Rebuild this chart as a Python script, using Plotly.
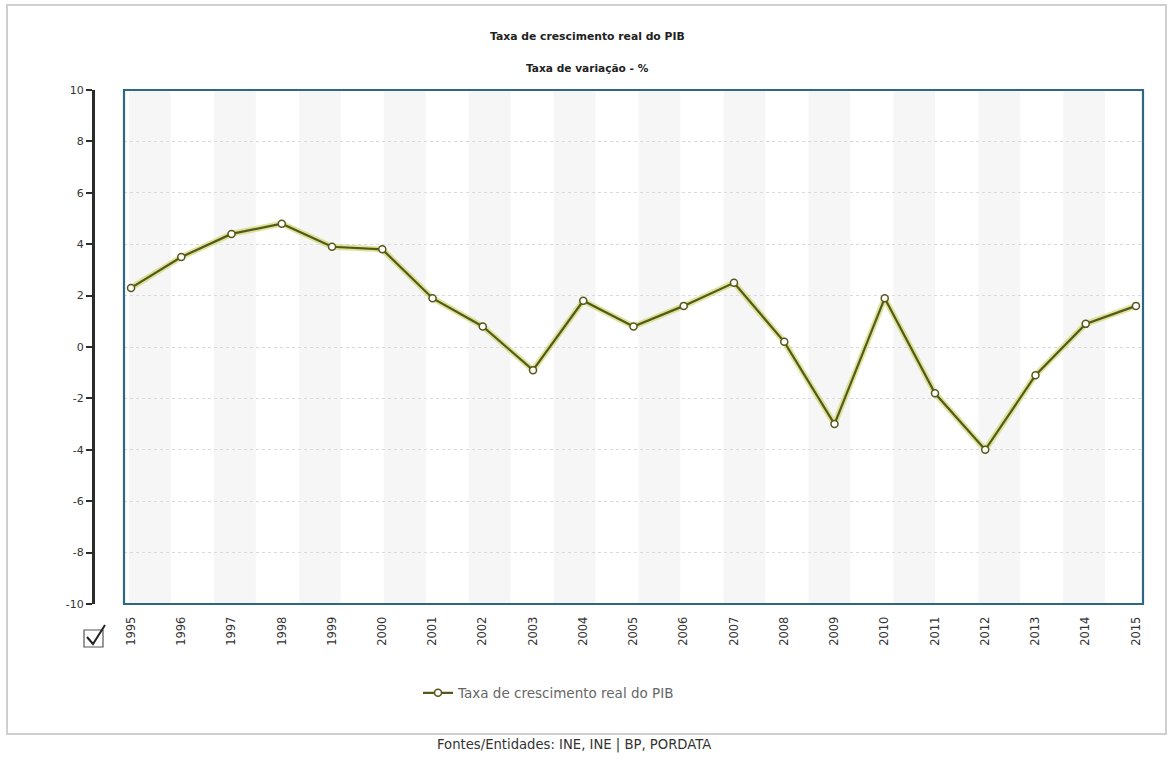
import plotly.graph_objects as go

# Real GDP growth rate, Portugal (annual % change)
years = [str(y) for y in range(1995, 2016)]
growth = [2.3, 3.5, 4.4, 4.8, 3.9, 3.8, 1.9, 0.8, -0.9, 1.8, 0.8,
          1.6, 2.5, 0.2, -3.0, 1.9, -1.8, -4.0, -1.1, 0.9, 1.6]
y_ticks = list(range(-10, 11, 2))
y_tick_text = [str(v) for v in y_ticks]

title = "Taxa de crescimento real do PIB"
subtitle = "Taxa de variação - %"
series_name = "Taxa de crescimento real do PIB"
source_note = "Fontes/Entidades: INE, INE | BP, PORDATA"

W, H = 1170, 760
ML, MR, MT, MB = 60, 27, 90, 156
PW, PH = W - ML - MR, H - MT - MB


def px(x):
    return (x - ML) / PW


def py(y):
    return (H - MB - y) / PH


FONT = "DejaVu Sans, Verdana, sans-serif"
OLIVE = "#57571c"

fig = go.Figure()

# soft yellow-green halo under the line
fig.add_trace(go.Scatter(
    x=years, y=growth, mode="lines",
    line=dict(color="rgba(205,218,110,0.7)", width=6),
    hoverinfo="skip", showlegend=False,
))
fig.add_trace(go.Scatter(
    x=years, y=growth, mode="lines+markers", name=series_name,
    line=dict(color=OLIVE, width=2.2),
    marker=dict(symbol="circle", size=7, color="white",
                line=dict(color=OLIVE, width=1.5)),
))

shapes = []
# alternating light stripes in the plotting area
n_stripes = 12
for i in range(n_stripes):
    shapes.append(dict(
        type="rect", xref="x domain", yref="y domain",
        x0=i / n_stripes + 0.005, x1=i / n_stripes + 0.046, y0=0, y1=1,
        fillcolor="#f6f6f6", line=dict(width=0), layer="below",
    ))
# plot frame
shapes.append(dict(
    type="rect", xref="x domain", yref="y domain", x0=0, x1=1, y0=0, y1=1,
    line=dict(color="#2e6784", width=2.2), fillcolor="rgba(0,0,0,0)", layer="above",
))
# outer panel border
shapes.append(dict(
    type="rect", xref="paper", yref="paper",
    x0=px(7), x1=px(1166), y0=py(734), y1=py(5),
    line=dict(color="#cfcfcf", width=2), fillcolor="rgba(0,0,0,0)",
))
# checkbox
shapes.append(dict(
    type="rect", xref="paper", yref="paper",
    x0=px(84), x1=px(103), y0=py(647), y1=py(630),
    line=dict(color="#555", width=1.2), fillcolor="white",
))
shapes.append(dict(
    type="path", xref="paper", yref="paper",
    path=(f"M {px(87)} {py(637)} L {px(93)} {py(644)} "
          f"L {px(105)} {py(625)}"),
    line=dict(color="#222", width=2),
))

x_dom0 = px(124)
fig.update_layout(
    width=W, height=H,
    margin=dict(l=ML, r=MR, t=MT, b=MB),
    paper_bgcolor="white", plot_bgcolor="white",
    font=dict(family=FONT, color="#333", size=10),
    xaxis=dict(
        type="category", domain=[x_dom0, 1],
        range=[-0.14, 20.14],
        tickangle=-90, tickfont=dict(size=11.5, color="#333"),
        showgrid=False, showline=False, zeroline=False,
        ticks="outside", ticklen=7, tickcolor="rgba(0,0,0,0)",
    ),
    yaxis=dict(
        anchor="free", position=px(93),
        range=[-10, 10], tickvals=y_ticks, ticktext=y_tick_text,
        showline=True, linecolor="#2b2b2b", linewidth=3,
        ticks="outside", ticklen=6, tickwidth=2, tickcolor="#2b2b2b",
        tickfont=dict(size=11, color="#333"),
        showgrid=True, gridcolor="#dadada", griddash="dot", gridwidth=1,
        zeroline=False,
    ),
    shapes=shapes,
    showlegend=True,
    legend=dict(
        orientation="h", x=px(418), xanchor="left",
        y=py(693), yanchor="middle",
        font=dict(size=13.5, color="#666"), bgcolor="rgba(0,0,0,0)",
        itemwidth=30,
    ),
    annotations=[
        dict(text=f"<b>{title}</b>", xref="paper", yref="paper",
             x=px(587), y=py(37), xanchor="center", yanchor="middle",
             showarrow=False, font=dict(size=10.8, color="#222")),
        dict(text=f"<b>{subtitle}</b>", xref="paper", yref="paper",
             x=px(587), y=py(68), xanchor="center", yanchor="middle",
             showarrow=False, font=dict(size=10.6, color="#222")),
        dict(text=source_note, xref="paper", yref="paper",
             x=px(574), y=py(745), xanchor="center", yanchor="middle",
             showarrow=False, font=dict(size=13.2, color="#333")),
    ],
)

fig.write_html("out.html")
